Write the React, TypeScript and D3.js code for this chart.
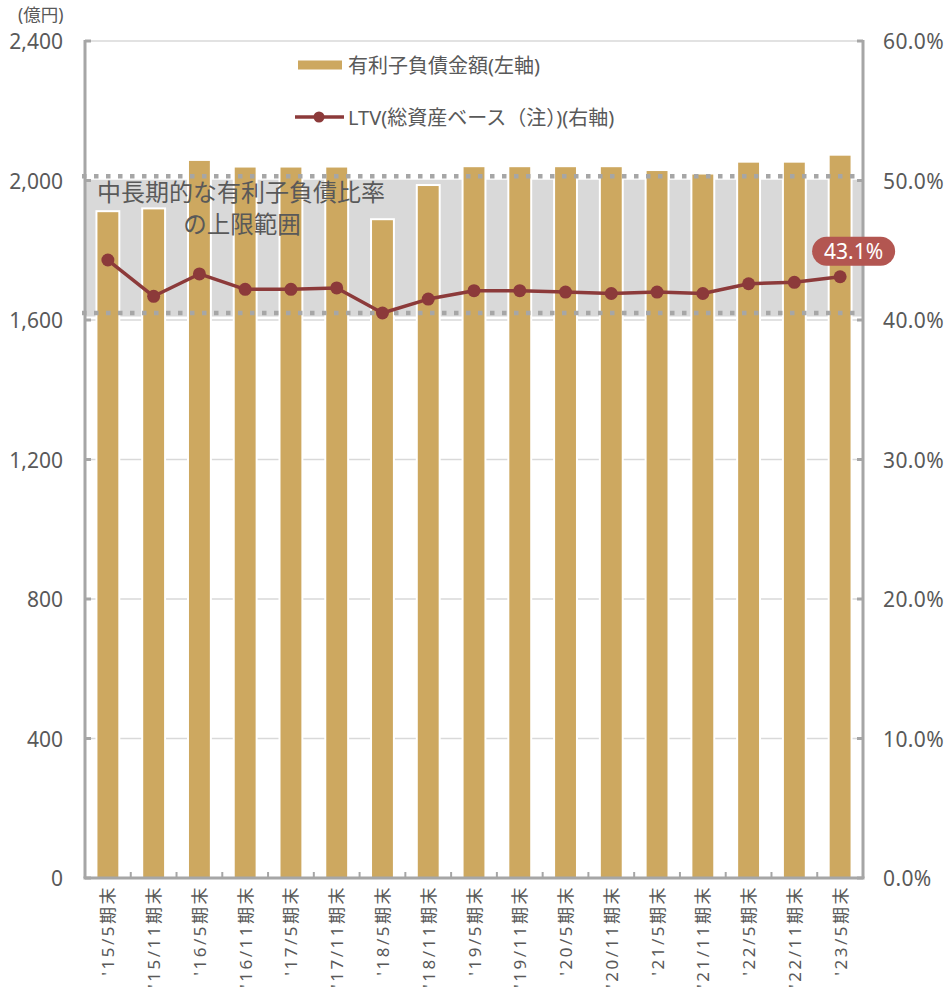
import React from "react";
import * as d3 from "d3";

const categories = [
  "'15/5期末", "'15/11期末", "'16/5期末", "'16/11期末", "'17/5期末", "'17/11期末",
  "'18/5期末", "'18/11期末", "'19/5期末", "'19/11期末", "'20/5期末", "'20/11期末",
  "'21/5期末", "'21/11期末", "'22/5期末", "'22/11期末", "'23/5期末",
];
const debtValues = [1912, 1920, 2059, 2040, 2040, 2040, 1889, 1987, 2041, 2041, 2041, 2041, 2030, 2020, 2054, 2054, 2074];
const ltvValues = [44.3, 41.7, 43.3, 42.2, 42.2, 42.3, 40.5, 41.5, 42.1, 42.1, 42.0, 41.9, 42.0, 41.9, 42.6, 42.7, 43.1];
const leftTicks = [0, 400, 800, 1200, 1600, 2000, 2400];
const rightTicks = [0, 10, 20, 30, 40, 50, 60];
const rangeBand = [1610, 2000]; // gray band (left axis units)
const rangeLines = [40.5, 50.3]; // dotted guide lines (right axis units)
const lastLabel = "43.1%";

const W = 952, H = 989;
const M = { left: 85, right: 863, top: 41, bottom: 878 };
const FONT = "'Noto Sans', 'Noto Sans CJK JP', sans-serif";
const GOLD = "#CDA860";
const LINE = "#8C3A3A";
const AXIS = "#A6A6A6";
const TXT = "#595959";

export default function App() {
  const x = d3.scaleBand<string>().domain(categories).range([M.left, M.right]).paddingInner(0).paddingOuter(0);
  const yL = d3.scaleLinear().domain([0, 2400]).range([M.bottom, M.top]);
  const yR = d3.scaleLinear().domain([0, 60]).range([M.bottom, M.top]);
  const bw = x.bandwidth() * 0.5;
  const cx = (c: string) => (x(c) as number) + x.bandwidth() / 2;
  const line = d3.line<number>().x((_, i) => cx(categories[i])).y((d) => yR(d));
  const lastX = cx(categories[categories.length - 1]);
  const lastY = yR(ltvValues[ltvValues.length - 1]);

  return (
    <svg width={W} height={H} style={{ position: "absolute", left: 0, top: 0, background: "#fff" }} fontFamily={FONT}>
      {/* gridlines */}
      {leftTicks.filter((t) => t > 0).map((t) => (
        <line key={"g" + t} x1={M.left} x2={M.right} y1={yL(t)} y2={yL(t)} stroke="#D9D9D9" strokeWidth={1.5} />
      ))}
      {/* gray range band */}
      <rect x={M.left + 1} y={yL(rangeBand[1])} width={M.right - M.left - 1} height={yL(rangeBand[0]) - yL(rangeBand[1])} fill="#D9D9D9" />
      {/* bars */}
      {categories.map((c, i) => (
        <rect key={"b" + c} x={cx(c) - bw / 2} y={yL(debtValues[i])} width={bw} height={yL(0) - yL(debtValues[i])}
          fill={GOLD} stroke="#fff" strokeWidth={2} />
      ))}
      {/* dotted guide lines */}
      {rangeLines.map((v) => (
        <line key={"d" + v} x1={M.left - 3} x2={M.right - 1} y1={yR(v)} y2={yR(v)} stroke={AXIS} strokeWidth={4.5} strokeDasharray="4.5 7.5" />
      ))}
      {/* axes */}
      <line x1={M.left} x2={M.left} y1={M.top - 1} y2={M.bottom} stroke={AXIS} strokeWidth={3} />
      <line x1={M.right} x2={M.right} y1={M.top - 1} y2={M.bottom} stroke={AXIS} strokeWidth={3} />
      <line x1={M.left - 1.5} x2={M.right + 1.5} y1={M.bottom} y2={M.bottom} stroke={AXIS} strokeWidth={3} />
      {leftTicks.map((t) => (
        <line key={"lt" + t} x1={M.left} x2={M.left + 6} y1={yL(t)} y2={yL(t)} stroke={AXIS} strokeWidth={3} />
      ))}
      {rightTicks.map((t) => (
        <line key={"rt" + t} x1={M.right - 6} x2={M.right} y1={yR(t)} y2={yR(t)} stroke={AXIS} strokeWidth={3} />
      ))}
      {categories.slice(1).map((c) => (
        <line key={"xt" + c} x1={x(c) as number} x2={x(c) as number} y1={M.bottom} y2={M.bottom - 6} stroke={AXIS} strokeWidth={2} />
      ))}
      {/* tick labels */}
      {leftTicks.map((t) => (
        <text key={"ll" + t} x={63} y={yL(t)} textAnchor="end" dominantBaseline="central" fontSize={21} fill={TXT}>
          {d3.format(",")(t)}
        </text>
      ))}
      {rightTicks.map((t) => (
        <text key={"rl" + t} x={883} y={yR(t)} textAnchor="start" dominantBaseline="central" fontSize={21} letterSpacing={0.4} fill={TXT}>
          {t.toFixed(1) + "%"}
        </text>
      ))}
      <text x={18} y={14} dominantBaseline="central" fontSize={17.5} fill={TXT}>(億円)</text>
      {categories.map((c) => (
        <text key={"xl" + c} transform={`translate(${cx(c)},${M.bottom + 7}) rotate(-90)`} textAnchor="end"
          dominantBaseline="central" fontSize={17} letterSpacing={2.5} fill={TXT}>
          {c}
        </text>
      ))}
      {/* annotation */}
      <text x={97} y={191} dominantBaseline="central" fontSize={24} fill={TXT}>中長期的な有利子負債比率</text>
      <text x={242} y={224} textAnchor="middle" dominantBaseline="central" fontSize={23.5} fill={TXT}>の上限範囲</text>
      {/* LTV line */}
      <path d={line(ltvValues) as string} fill="none" stroke={LINE} strokeWidth={3.5} strokeLinejoin="round" />
      {ltvValues.map((v, i) => (
        <circle key={"p" + i} cx={cx(categories[i])} cy={yR(v)} r={6.5} fill={LINE} />
      ))}
      {/* last label */}
      <rect x={lastX - 28} y={lastY - 40} width={83} height={29} rx={14.5} fill="#B35651" />
      <text x={lastX + 13.5} y={lastY - 25.5} textAnchor="middle" dominantBaseline="central" fontSize={21} fill="#fff">{lastLabel}</text>
      {/* legend */}
      <rect x={298} y={60.5} width={44} height={9} fill={GOLD} />
      <text x={348} y={65} dominantBaseline="central" fontSize={20} fill={TXT}>有利子負債金額(左軸)</text>
      <line x1={295} x2={344} y1={117} y2={117} stroke={LINE} strokeWidth={3.5} />
      <circle cx={319} cy={117} r={5.5} fill={LINE} />
      <text x={348} y={117} dominantBaseline="central" fontSize={20} fill={TXT}>LTV(総資産ベース（注）)(右軸)</text>
    </svg>
  );
}
